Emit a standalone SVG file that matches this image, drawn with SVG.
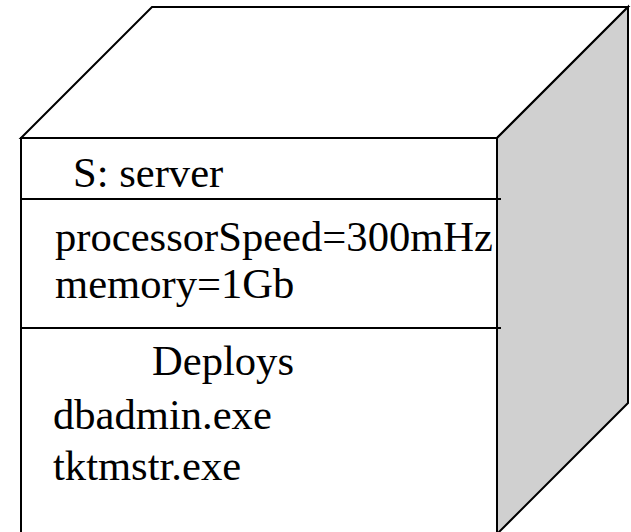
<svg xmlns="http://www.w3.org/2000/svg" width="631" height="532" viewBox="0 0 631 532">
  <style>
    .edge { stroke: #000; stroke-width: 2; stroke-linejoin: miter; }
    .face { fill: #fff; }
    .side { fill: #d0d0d0; }
    .lbl { font-family: "Liberation Serif", "Times New Roman", serif; font-size: 42.6px; fill: #000; }
  </style>
  <rect width="631" height="532" fill="#fff"/>
  <g id="node-server">
    <!-- top face -->
    <polygon class="edge face" points="21,138 152,7 628,7 497,138"/>
    <!-- right side face -->
    <polygon class="edge side" points="497,138 628,7 628,403 497,534"/>
    <!-- front face -->
    <rect class="edge face" x="21" y="138" width="476" height="400"/>
    <!-- compartment separators -->
    <line class="edge" x1="21" y1="199" x2="501" y2="199"/>
    <line class="edge" x1="21" y1="328" x2="501" y2="328"/>
    <!-- labels -->
    <text class="lbl" x="73" y="187">S: server</text>
    <text class="lbl" x="55" y="251">processorSpeed=300mHz</text>
    <text class="lbl" x="55" y="298">memory=1Gb</text>
    <text class="lbl" x="152" y="375">Deploys</text>
    <text class="lbl" x="53" y="429">dbadmin.exe</text>
    <text class="lbl" x="53" y="480">tktmstr.exe</text>
  </g>
  <g id="connectors"/>
</svg>
